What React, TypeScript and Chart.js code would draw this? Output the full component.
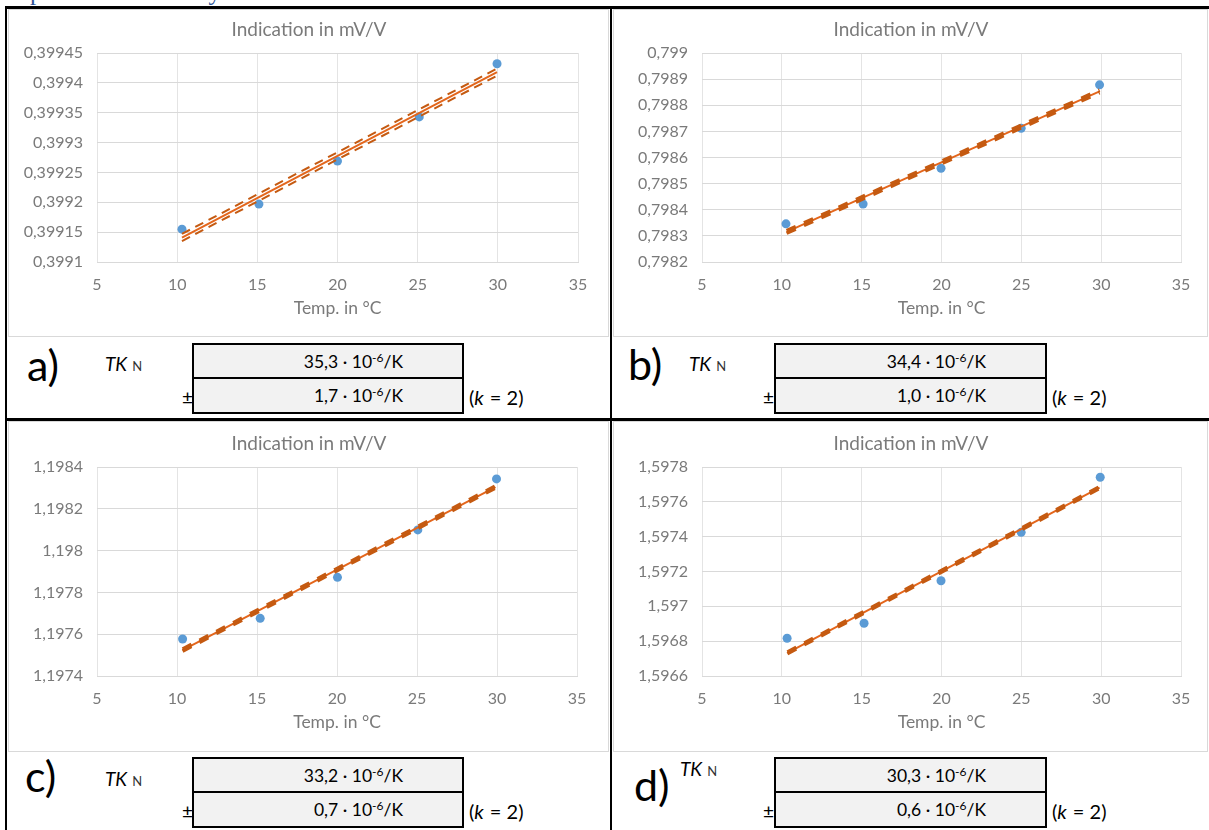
import React, { useEffect, useRef } from 'react';
import { Chart, registerables } from 'chart.js';

Chart.register(...registerables);

// ---------- data ----------
const xTickLabels = ['5', '10', '15', '20', '25', '30', '35'];

// a)
const tempA = [10.3, 15.1, 20.0, 25.1, 29.95];
const indA = [0.399155, 0.399197, 0.399269, 0.399343, 0.399432];
const trendXA = [10.3, 29.95];
const trendA = [0.399141, 0.399418];
const upperA = [0.399147, 0.399424];
const lowerA = [0.399135, 0.399412];
const yTickLabelsA = ['0,3991', '0,39915', '0,3992', '0,39925', '0,3993', '0,39935', '0,3994', '0,39945'];

// b)
const tempB = [10.26, 15.09, 19.97, 24.99, 29.9];
const indB = [0.798346, 0.798422, 0.798559, 0.798712, 0.798878];
const trendXB = [10.3, 29.9];
const trendB = [0.798315, 0.798853];
const upperB = [0.79832, 0.798858];
const lowerB = [0.79831, 0.798848];
const yTickLabelsB = ['0,7982', '0,7983', '0,7984', '0,7985', '0,7986', '0,7987', '0,7988', '0,7989', '0,799'];

// c)
const tempC = [10.35, 15.2, 20.03, 25.05, 29.97];
const indC = [1.197577, 1.197676, 1.197872, 1.198099, 1.198343];
const trendXC = [10.35, 29.9];
const trendC = [1.197524, 1.198304];
const upperC = [1.197529, 1.198309];
const lowerC = [1.197519, 1.198299];
const yTickLabelsC = ['1,1974', '1,1976', '1,1978', '1,198', '1,1982', '1,1984'];

// d)
const tempD = [10.33, 15.15, 19.97, 24.99, 29.94];
const indD = [1.5968165, 1.5969026, 1.597147, 1.597425, 1.597741];
const trendXD = [10.35, 29.9];
const trendD = [1.596733, 1.597682];
const upperD = [1.596738, 1.597687];
const lowerD = [1.596728, 1.597677];
const yTickLabelsD = ['1,5966', '1,5968', '1,597', '1,5972', '1,5974', '1,5976', '1,5978'];

// table values
const panelLabels = ['a)', 'b)', 'c)', 'd)'];
const tkValues = ['35,3', '34,4', '33,2', '30,3'];
const tkUncertainties = ['1,7', '1,0', '0,7', '0,6'];

// ---------- styles ----------
const FONT = 'Lato, "Open Sans", sans-serif';
const TEXT_GREY = '#7a7a7a';
const BLUE = '#5B9BD5';
const TREND = '#E4661C';
const DASH = '#C55A11';

type PanelProps = {
  left: number;
  top: number;
  width: number;
  height: number;
  rightPad: number;
  temps: number[];
  inds: number[];
  trendX: number[];
  trendY: number[];
  upperY: number[];
  lowerY: number[];
  yLabels: string[];
  dash: number[];
  dashWidth: number;
};

function ChartPanel(p: PanelProps) {
  const ref = useRef<HTMLCanvasElement>(null);
  useEffect(() => {
    const yVals = p.yLabels.map((s) => parseFloat(s.replace(',', '.')));
    const xVals = xTickLabels.map((s) => Number(s));
    const line = (ys: number[]) => p.trendX.map((x, i) => ({ x, y: ys[i] }));
    const chart = new Chart(ref.current as HTMLCanvasElement, {
      type: 'scatter',
      data: {
        datasets: [
          {
            label: 'upper',
            data: line(p.upperY),
            showLine: true,
            borderColor: DASH,
            borderWidth: p.dashWidth,
            borderDash: p.dash,
            pointRadius: 0,
            order: 1,
          },
          {
            label: 'lower',
            data: line(p.lowerY),
            showLine: true,
            borderColor: DASH,
            borderWidth: p.dashWidth,
            borderDash: p.dash,
            pointRadius: 0,
            order: 1,
          },
          {
            label: 'trend',
            data: line(p.trendY),
            showLine: true,
            borderColor: TREND,
            borderWidth: 2,
            pointRadius: 0,
            order: 1,
          },
          {
            label: 'Indication',
            data: p.temps.map((x, i) => ({ x, y: p.inds[i] })),
            pointRadius: 4.5,
            pointBackgroundColor: BLUE,
            backgroundColor: BLUE,
            pointBorderWidth: 0,
            borderWidth: 0,
            order: 2,
          },
        ],
      },
      options: {
        animation: false,
        responsive: false,
        layout: { padding: 0 },
        plugins: {
          legend: { display: false },
          tooltip: { enabled: false },
          title: {
            display: true,
            text: 'Indication in mV/V',
            color: TEXT_GREY,
            font: { family: FONT, size: 19, weight: 'normal' },
            padding: { top: 8.6, bottom: 11.6 },
          },
        },
        scales: {
          x: {
            type: 'linear',
            min: xVals[0],
            max: xVals[xVals.length - 1],
            afterBuildTicks: (s: any) => {
              s.ticks = xVals.map((v) => ({ value: v }));
            },
            afterFit: (s: any) => {
              s.height = p.height - 252;
            },
            ticks: {
              callback: (_v: any, i: number) => xTickLabels[i],
              color: TEXT_GREY,
              font: { family: FONT, size: 16 },
              padding: 13,
              maxRotation: 0,
              autoSkip: false,
            },
            grid: { color: '#E4E4E4', drawTicks: false },
            border: { color: '#D9D9D9' },
            title: {
              display: true,
              text: 'Temp. in °C',
              color: TEXT_GREY,
              font: { family: FONT, size: 17.5 },
              padding: { top: 0, bottom: 17.5 },
            },
          },
          y: {
            type: 'linear',
            min: yVals[0],
            max: yVals[yVals.length - 1],
            afterBuildTicks: (s: any) => {
              s.ticks = yVals.map((v) => ({ value: v }));
            },
            afterFit: (s: any) => {
              s.width = 88;
            },
            ticks: {
              callback: (_v: any, i: number) => p.yLabels[i],
              color: TEXT_GREY,
              font: { family: FONT, size: 16 },
              padding: 14,
              autoSkip: false,
            },
            grid: { color: '#D9D9D9', drawTicks: false },
            border: { display: false },
          },
          rightSpace: {
            type: 'linear',
            position: 'right',
            display: true,
            grid: { display: false, drawTicks: false },
            border: { display: false },
            ticks: { display: false },
            afterFit: (s: any) => {
              s.width = p.rightPad;
            },
          },
        },
      },
    } as any);
    return () => chart.destroy();
  }, []);
  return (
    <canvas
      ref={ref}
      width={p.width}
      height={p.height}
      style={{ position: 'absolute', left: p.left, top: p.top, width: p.width, height: p.height }}
    />
  );
}

type TableProps = {
  idx: number;
  labelX: number;
  labelTop: number;
  tkX: number;
  tkTop: number;
  boxX: number;
  boxTop: number;
  boxW: number;
  pmX: number;
  kX: number;
};

function ValueText({ v }: { v: string }) {
  return (
    <span>
      {v} · 10<sup style={{ fontSize: 12, verticalAlign: 'top', position: 'relative', top: -4 }}>-6</sup>/K
    </span>
  );
}

function ResultTable(t: TableProps) {
  const rowH1 = 36;
  const rowH2 = 35;
  const textRight = 59;
  return (
    <>
      <div
        style={{
          position: 'absolute',
          left: t.labelX,
          top: t.labelTop,
          fontSize: 43,
          lineHeight: '46px',
          color: '#000',
          fontFamily: FONT,
        }}
      >
        {panelLabels[t.idx]}
      </div>
      <div
        style={{
          position: 'absolute',
          left: t.tkX,
          top: t.tkTop,
          fontSize: 19,
          lineHeight: '20px',
          fontFamily: FONT,
          whiteSpace: 'nowrap',
        }}
      >
        <i>TK</i>
        <span style={{ fontSize: 13, marginLeft: 5, color: '#333' }}>N</span>
      </div>
      <div
        style={{
          position: 'absolute',
          left: t.boxX,
          top: t.boxTop,
          width: t.boxW,
          height: rowH1,
          boxSizing: 'border-box',
          border: '2px solid #000',
          background: '#F2F2F2',
          fontSize: 17.5,
          lineHeight: `${rowH1 - 2}px`,
          textAlign: 'right',
          paddingRight: textRight,
          fontFamily: FONT,
          whiteSpace: 'nowrap',
        }}
      >
        <ValueText v={tkValues[t.idx]} />
      </div>
      <div
        style={{
          position: 'absolute',
          left: t.boxX,
          top: t.boxTop + rowH1 - 2,
          width: t.boxW,
          height: rowH2 + 2,
          boxSizing: 'border-box',
          border: '2px solid #000',
          background: '#F2F2F2',
          fontSize: 17.5,
          lineHeight: `${rowH2 - 1}px`,
          textAlign: 'right',
          paddingRight: textRight,
          fontFamily: FONT,
          whiteSpace: 'nowrap',
        }}
      >
        <ValueText v={tkUncertainties[t.idx]} />
      </div>
      <div
        style={{
          position: 'absolute',
          left: t.pmX,
          top: t.boxTop + rowH1 + 3,
          fontSize: 19,
          lineHeight: '30px',
          fontFamily: FONT,
        }}
      >
        ±
      </div>
      <div
        style={{
          position: 'absolute',
          left: t.kX,
          top: t.boxTop + rowH1 + 3,
          fontSize: 20,
          lineHeight: '30px',
          fontFamily: FONT,
          whiteSpace: 'nowrap',
        }}
      >
        (<i>k</i>
        <span style={{ marginLeft: 6 }}>= 2)</span>
      </div>
    </>
  );
}

function Line({ x, y, w, h, c }: { x: number; y: number; w: number; h: number; c: string }) {
  return <div style={{ position: 'absolute', left: x, top: y, width: w, height: h, background: c }} />;
}

export default function App() {
  const dashA = [9, 6];
  const dashB = [10, 9];
  return (
    <div
      style={{
        position: 'absolute',
        left: 0,
        top: 0,
        width: 1209,
        height: 830,
        overflow: 'hidden',
        background: '#fff',
        fontFamily: FONT,
      }}
    >
      {/* clipped heading from the page above */}
      <div style={{ position: 'absolute', left: 0, top: 0, width: 600, height: 6, overflow: 'hidden' }}>
        <div
          style={{
            position: 'absolute',
            left: -14,
            top: -21,
            fontFamily: '"Liberation Serif", serif',
            fontSize: 25,
            lineHeight: '26px',
            color: '#2F5597',
            whiteSpace: 'nowrap',
          }}
        >
          Temperature sensitivity
        </div>
      </div>

      {/* chart area frames */}
      <div style={{ position: 'absolute', left: 8, top: 9, width: 601, height: 328, border: '1px solid #D9D9D9', boxSizing: 'border-box' }} />
      <div style={{ position: 'absolute', left: 613, top: 9, width: 595, height: 328, border: '1px solid #D9D9D9', boxSizing: 'border-box' }} />
      <div style={{ position: 'absolute', left: 8, top: 421, width: 601, height: 331, border: '1px solid #D9D9D9', boxSizing: 'border-box' }} />
      <div style={{ position: 'absolute', left: 613, top: 421, width: 595, height: 331, border: '1px solid #D9D9D9', boxSizing: 'border-box' }} />

      <ChartPanel left={9} top={10} width={600} height={326} rightPad={31}
        temps={tempA} inds={indA} trendX={trendXA} trendY={trendA} upperY={upperA} lowerY={lowerA}
        yLabels={yTickLabelsA} dash={dashA} dashWidth={2} />
      <ChartPanel left={614} top={10} width={594} height={326} rightPad={27}
        temps={tempB} inds={indB} trendX={trendXB} trendY={trendB} upperY={upperB} lowerY={lowerB}
        yLabels={yTickLabelsB} dash={dashB} dashWidth={3.5} />
      <ChartPanel left={9} top={424} width={600} height={326} rightPad={32}
        temps={tempC} inds={indC} trendX={trendXC} trendY={trendC} upperY={upperC} lowerY={lowerC}
        yLabels={yTickLabelsC} dash={dashB} dashWidth={3.5} />
      <ChartPanel left={614} top={424} width={594} height={326} rightPad={27}
        temps={tempD} inds={indD} trendX={trendXD} trendY={trendD} upperY={upperD} lowerY={lowerD}
        yLabels={yTickLabelsD} dash={dashB} dashWidth={3.5} />

      <ResultTable idx={0} labelX={27} labelTop={342} tkX={105} tkTop={354} boxX={192} boxTop={343} boxW={272} pmX={182} kX={469} />
      <ResultTable idx={1} labelX={628} labelTop={341} tkX={689} tkTop={354} boxX={774} boxTop={343} boxW={273} pmX={763} kX={1052} />
      <ResultTable idx={2} labelX={25} labelTop={753} tkX={105} tkTop={769} boxX={192} boxTop={757} boxW={272} pmX={182} kX={469} />
      <ResultTable idx={3} labelX={634} labelTop={762} tkX={680} tkTop={759} boxX={774} boxTop={757} boxW={273} pmX={763} kX={1052} />

      {/* page table borders */}
      <Line x={5} y={6} w={1204} h={3} c="#000" />
      <Line x={5} y={6} w={2} h={824} c="#000" />
      <Line x={610} y={6} w={2} h={824} c="#000" />
      <Line x={5} y={418} w={1204} h={3} c="#000" />
    </div>
  );
}
